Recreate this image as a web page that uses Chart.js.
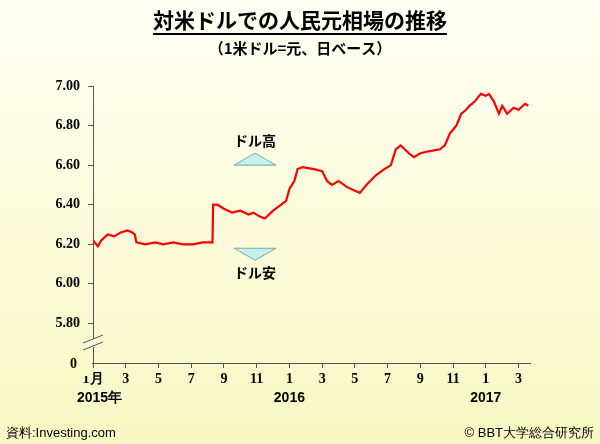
<!DOCTYPE html>
<html><head><meta charset="utf-8">
<script src="https://cdn.jsdelivr.net/npm/chart.js@4"></script>
<style>html,body{margin:0;padding:0;}body{width:600px;height:444px;background:linear-gradient(#fffff4,#f7f7c4);}canvas{display:block}</style>
</head><body><canvas id="c" width="600" height="444"></canvas>
<script>
// month index (0 = Jan 2015) and CNY per USD
const months = [0,0.3,0.5,0.9,1.3,1.7,2.1,2.4,2.55,2.65,3.2,3.8,4.3,4.9,5.5,6.1,6.7,7.3,7.34,7.6,8.0,8.5,9.0,9.5,9.8,10.2,10.5,11.0,11.5,11.8,12.0,12.3,12.5,12.8,13.5,14.0,14.3,14.6,15.0,15.5,16.0,16.3,16.7,17.3,17.8,18.2,18.5,18.8,19.3,19.6,20.0,20.5,21.2,21.5,21.8,22.2,22.5,22.8,23.0,23.3,23.7,24.0,24.2,24.5,24.8,25.0,25.3,25.7,26.0,26.4,26.6];
const rates  = [6.22,6.19,6.22,6.25,6.24,6.26,6.27,6.26,6.25,6.21,6.20,6.21,6.20,6.21,6.20,6.20,6.21,6.21,6.40,6.40,6.38,6.36,6.37,6.35,6.36,6.34,6.33,6.37,6.40,6.42,6.48,6.52,6.58,6.59,6.58,6.57,6.52,6.50,6.52,6.49,6.47,6.46,6.50,6.55,6.58,6.60,6.68,6.70,6.66,6.64,6.66,6.67,6.68,6.70,6.76,6.80,6.86,6.88,6.90,6.92,6.96,6.95,6.96,6.92,6.86,6.90,6.86,6.89,6.88,6.91,6.90];
const yTicks = [5.6,5.8,6.0,6.2,6.4,6.6,6.8,7.0];
const monthLabels = ['1月','3','5','7','9','11','1','3','5','7','9','11','1','3'];
const yearLabels = [['2015年',0.4],['2016',12],['2017',24]];
const notes = [['ドル高',6.60,1],['ドル安',6.18,-1]];

const deco = {
  id:'deco',
  afterDraw(ch){
    const c=ch.ctx, x=ch.scales.x, y=ch.scales.y;
    c.save();
    c.fillStyle='#000';c.textAlign='center';c.textBaseline='middle';
    c.font='bold 21px "Noto Sans CJK JP"';
    const t='対米ドルでの人民元相場の推移';c.fillText(t,300,20);
    const w=c.measureText(t).width;c.fillRect(300-w/2,33,w,2);
    c.font='bold 15px "Noto Sans CJK JP"';c.fillText('（1米ドル=元、日ベース）',300,48);
    // year labels
    c.font='bold 14px "Liberation Sans"';
    yearLabels.forEach(([s,m])=>c.fillText(s,x.getPixelForValue(m),398));
    // footer
    c.font='13px "Liberation Sans"';c.textAlign='left';c.fillText('資料:Investing.com',6,433);
    c.textAlign='right';c.fillText('© BBT大学総合研究所',594,433);
    // zero label box
    c.fillStyle='#fafac8';c.fillRect(60,352,32,24);
    c.fillStyle='#000';c.font='bold 14px "Liberation Serif"';c.textAlign='right';
    c.fillText('0',77,364);
    // axis break
    c.strokeStyle='#fffff0';c.lineWidth=5;c.beginPath();c.moveTo(93,339);c.lineTo(93,347);c.stroke();
    c.strokeStyle='#555';c.lineWidth=1;
    c.beginPath();c.moveTo(83,343);c.lineTo(103,335);c.moveTo(83,350);c.lineTo(103,342);c.stroke();
    // arrows
    notes.forEach(([s,v,d])=>{
      const cx=x.getPixelForValue(9.9), by=y.getPixelForValue(v);
      c.fillStyle='#c4f0ee';c.strokeStyle='#7aa';c.lineWidth=1;
      c.beginPath();c.moveTo(cx-21,by);c.lineTo(cx+21,by);c.lineTo(cx,by-12*d);c.closePath();c.fill();c.stroke();
      c.fillStyle='#000';c.font='bold 14px "Noto Sans CJK JP"';c.textAlign='center';
      c.fillText(s,cx,by-d*24);
    });
    c.restore();
  }
};

new Chart(document.getElementById('c'),{
  type:'line',
  data:{datasets:[{data:months.map((m,i)=>({x:m,y:rates[i]})),borderColor:'#ff0000',borderWidth:2.2,pointRadius:0,tension:0}]},
  options:{
    responsive:false,animation:false,
    layout:{padding:{top:86,right:70,left:0,bottom:0}},
    plugins:{legend:{display:false},tooltip:{enabled:false}},
    scales:{
      x:{type:'linear',min:0,max:26.7,
        afterBuildTicks(s){s.ticks=monthLabels.map((_,i)=>({value:i*2}));},
        afterFit(s){s.height=81;},
        border:{color:'#555'},
        grid:{drawOnChartArea:false,tickLength:5,color:'#555'},
        ticks:{callback:(v,i)=>monthLabels[i],color:'#000',font:{family:'Liberation Serif',weight:'bold',size:14},maxRotation:0,autoSkip:false,padding:3}},
      y:{min:5.6,max:7.0,
        afterBuildTicks(s){s.ticks=yTicks.map(v=>({value:v}));},
        afterFit(s){s.width=93;},
        border:{color:'#555'},
        grid:{drawOnChartArea:false,tickLength:5,color:'#555'},
        ticks:{callback:v=>v<5.7?'':v.toFixed(2),color:'#000',font:{family:'Liberation Serif',weight:'bold',size:14},padding:8}}
    }
  },
  plugins:[deco]
});
</script></body></html>
